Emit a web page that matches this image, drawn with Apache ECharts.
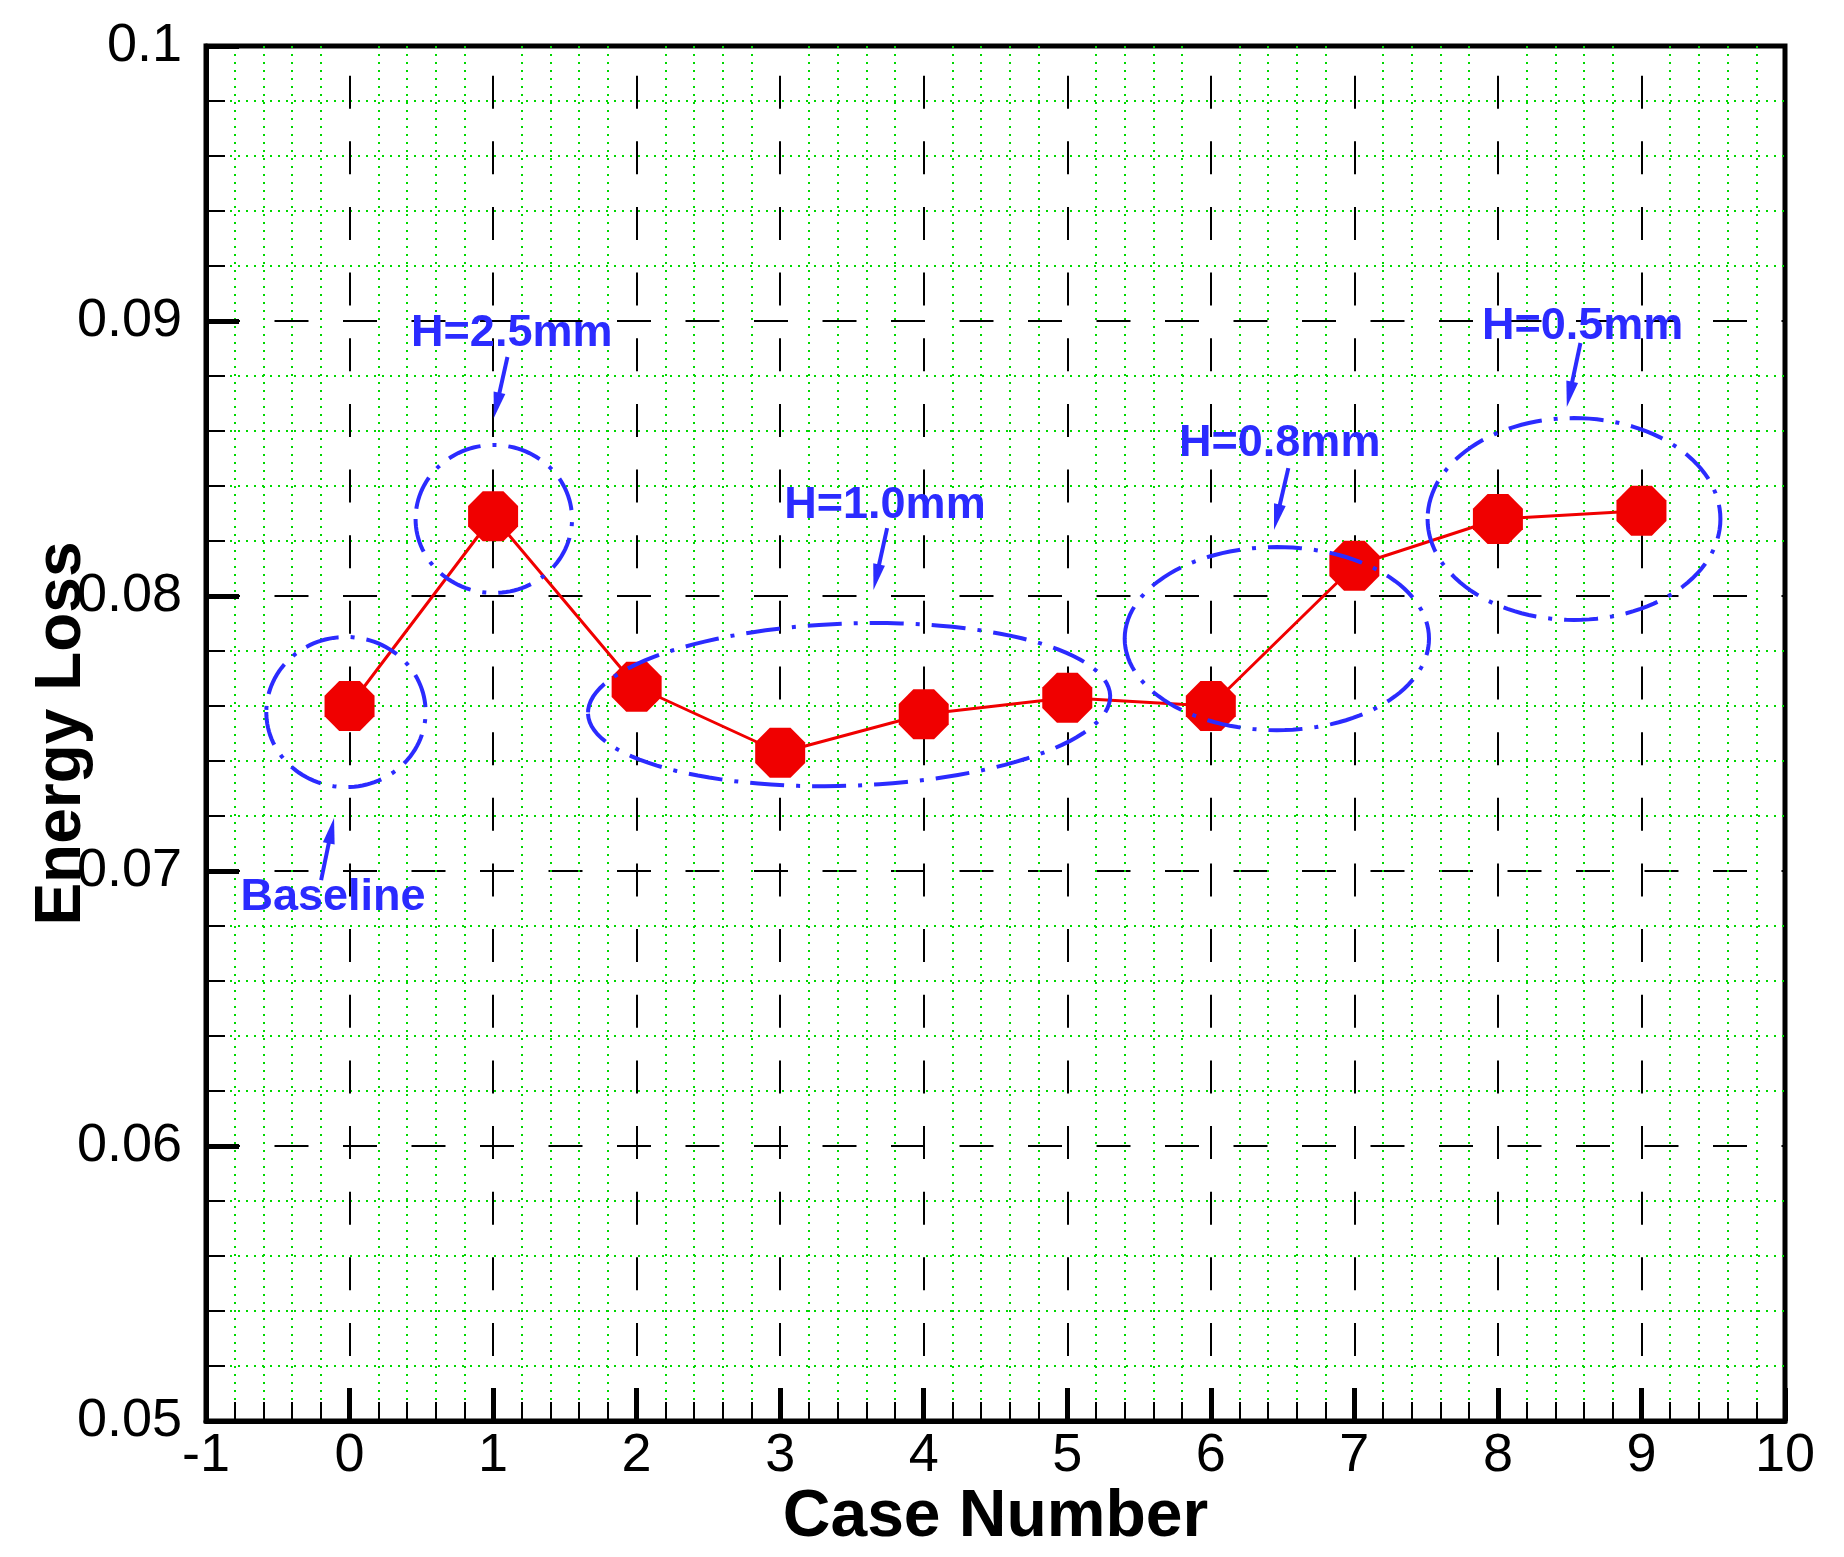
<!DOCTYPE html>
<html>
<head>
<meta charset="utf-8">
<script src="https://cdn.jsdelivr.net/npm/echarts@6/dist/echarts.min.js"></script>
<style>
  html, body { margin: 0; padding: 0; background: #fff; }
  #chart { width: 1844px; height: 1557px; }
</style>
</head>
<body>
<div id="chart"></div>
<script>
// values
var caseNumbers = [0, 1, 2, 3, 4, 5, 6, 7, 8, 9];
var energyLoss = [0.0760, 0.0829, 0.0767, 0.0743, 0.0757, 0.0763, 0.0760, 0.0811, 0.0828, 0.0831];

// annotation groups: centre x, centre y, half width (cases), half height (loss), tilt (deg)
var groupEllipses = [
  [-0.025, 0.07578, 0.555, 0.00273, 0],
  [1.005, 0.0828, 0.545, 0.00269, 0],
  [3.48, 0.07605, 1.82, 0.00295, -2],
  [6.46, 0.07845, 1.06, 0.00333, 0],
  [8.53, 0.0828, 1.02, 0.00367, 0]
];
var groupLabels = ["Baseline", "H=2.5mm", "H=1.0mm", "H=0.8mm", "H=0.5mm"];
var labelPos = [
  [-0.115, 0.06902],
  [1.13, 0.08956],
  [3.73, 0.0833],
  [6.48, 0.08556],
  [8.59, 0.0898]
];
// arrows: tail x, tail y, head x, head y
var arrows = [
  [-0.198, 0.06967, -0.108, 0.07193],
  [1.10, 0.08869, 1.005, 0.08647],
  [3.745, 0.08247, 3.65, 0.08022],
  [6.54, 0.08465, 6.44, 0.0824],
  [8.575, 0.0892, 8.48, 0.08687]
];

var xTicks = { min: -1, max: 10, step: 1 };
var yTicks = { min: 0.05, max: 0.1, step: 0.01 };

var FONT = '"Liberation Sans", Arial, sans-serif';
var BLUE = "#2b2bff";
var RED = "#f00000";
var GREEN = "#00d800";
var OCTAGON = "path://M-0.414,-1L0.414,-1L1,-0.414L1,0.414L0.414,1L-0.414,1L-1,0.414L-1,-0.414Z";

var chart = echarts.init(document.getElementById("chart"), null, { renderer: "canvas" });

function renderEllipse(params, api) {
  var c = api.coord([api.value(0), api.value(1)]);
  var s = api.size([api.value(2), api.value(3)]);
  var rot = (api.value(4) * Math.PI) / 180;
  var pts = [];
  var n = 120;
  for (var i = 0; i < n; i++) {
    var t = Math.PI - (i / n) * Math.PI * 2;
    var ex = s[0] * Math.cos(t);
    var ey = s[1] * Math.sin(t);
    pts.push([c[0] + ex * Math.cos(rot) - ey * Math.sin(rot), c[1] + ex * Math.sin(rot) + ey * Math.cos(rot)]);
  }
  return {
    type: "polygon",
    shape: { points: pts },
    style: { fill: "none", stroke: BLUE, lineWidth: 4, lineDash: [34, 12, 4, 12] }
  };
}

function renderArrow(params, api) {
  var p1 = api.coord([api.value(0), api.value(1)]);
  var p2 = api.coord([api.value(2), api.value(3)]);
  var dx = p2[0] - p1[0], dy = p2[1] - p1[1];
  var len = Math.sqrt(dx * dx + dy * dy);
  var ux = dx / len, uy = dy / len;
  var head = 26, half = 6;
  var bx = p2[0] - ux * head, by = p2[1] - uy * head;
  return {
    type: "group",
    children: [
      {
        type: "line",
        shape: { x1: p1[0], y1: p1[1], x2: bx + ux * 4, y2: by + uy * 4 },
        style: { stroke: BLUE, lineWidth: 4 }
      },
      {
        type: "polygon",
        shape: { points: [[p2[0], p2[1]], [bx - uy * half, by + ux * half], [bx + uy * half, by - ux * half]] },
        style: { fill: BLUE }
      }
    ]
  };
}

function renderLabel(params, api) {
  var c = api.coord([api.value(0), api.value(1)]);
  return {
    type: "text",
    x: c[0],
    y: c[1],
    style: {
      text: groupLabels[params.dataIndex],
      fill: BLUE,
      font: "bold 45px " + FONT,
      align: "center",
      verticalAlign: "middle"
    }
  };
}

var option = {
  backgroundColor: "#fff",
  animation: false,
  grid: {
    left: 206,
    top: 46,
    width: 1579,
    height: 1375,
    containLabel: false,
    outerBoundsMode: "none",
    show: true,
    borderColor: "#000",
    borderWidth: 5,
    backgroundColor: "transparent"
  },
  xAxis: {
    type: "value",
    min: xTicks.min,
    max: xTicks.max,
    interval: xTicks.step,
    name: "Case Number",
    nameLocation: "middle",
    nameGap: 64,
    nameMoveOverlap: false,
    nameTextStyle: { fontFamily: FONT, fontSize: 66, fontWeight: "bold", color: "#000" },
    axisLine: { show: true, onZero: false, lineStyle: { color: "#000", width: 5 } },
    axisTick: { show: true, inside: true, length: 33, lineStyle: { color: "#000", width: 5 } },
    minorTick: { show: true, splitNumber: 5, length: 19, lineStyle: { color: "#000", width: 2 } },
    axisLabel: { fontFamily: FONT, fontSize: 54, color: "#000", margin: 8 },
    splitLine: {
      show: true,
      lineStyle: { color: "#000", width: 2, type: [33, 32.65], dashOffset: 36 }
    },
    minorSplitLine: { show: true, lineStyle: { color: GREEN, width: 2, type: [2, 6] } }
  },
  yAxis: {
    type: "value",
    min: yTicks.min,
    max: yTicks.max,
    interval: yTicks.step,
    name: "Energy Loss",
    nameLocation: "middle",
    nameGap: 112,
    nameMoveOverlap: false,
    nameTextStyle: { fontFamily: FONT, fontSize: 64, fontWeight: "bold", color: "#000" },
    axisLine: { show: true, onZero: false, lineStyle: { color: "#000", width: 5 } },
    axisTick: { show: true, inside: true, length: 33, lineStyle: { color: "#000", width: 5 } },
    minorTick: { show: true, splitNumber: 5, length: 19, lineStyle: { color: "#000", width: 2 } },
    axisLabel: { fontFamily: FONT, fontSize: 54, color: "#000", margin: 24 },
    splitLine: {
      show: true,
      lineStyle: { color: "#000", width: 2, type: [34, 34.5] }
    },
    minorSplitLine: { show: true, lineStyle: { color: GREEN, width: 2, type: [2, 6] } }
  },
  series: [
    {
      type: "line",
      data: caseNumbers.map(function (c, i) { return [c, energyLoss[i]]; }),
      symbol: OCTAGON,
      symbolSize: 50,
      showSymbol: true,
      lineStyle: { color: RED, width: 3 },
      itemStyle: { color: RED, borderWidth: 0 },
      z: 3
    },
    {
      type: "custom",
      renderItem: renderEllipse,
      data: groupEllipses,
      encode: { x: 0, y: 1 },
      clip: false,
      z: 4
    },
    {
      type: "custom",
      renderItem: renderArrow,
      data: arrows,
      encode: { x: [0, 2], y: [1, 3] },
      clip: false,
      z: 4
    },
    {
      type: "custom",
      renderItem: renderLabel,
      data: labelPos,
      encode: { x: 0, y: 1 },
      clip: false,
      z: 5
    }
  ]
};

chart.setOption(option);
</script>
</body>
</html>
